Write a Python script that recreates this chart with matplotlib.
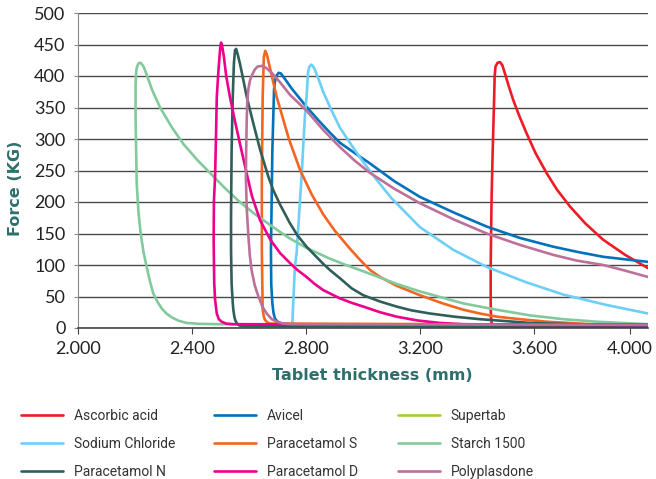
import matplotlib
matplotlib.use("Agg")
import matplotlib.pyplot as plt

# data: thickness (mm) and force (KG) per material
ascorbic_x = [4.0, 3.92, 3.843, 3.78, 3.726, 3.68, 3.644, 3.605, 3.574, 3.548, 3.527, 3.51, 3.498, 3.489, 3.481,
              3.472, 3.465, 3.462, 3.46, 3.455, 3.451, 3.448, 3.448, 3.449, 3.452, 4.0]
ascorbic_y = [95, 116, 140, 166, 193, 220, 246, 278, 309, 337, 362, 386, 404, 417, 422,
              421, 415, 400, 362, 280, 203, 97, 40, 18, 5, 5]

avicel_x = [4.0, 3.92, 3.843, 3.75, 3.668, 3.55, 3.434, 3.32, 3.2, 3.11, 3.025, 2.97, 2.919, 2.88, 2.849, 2.802,
            2.75, 2.725, 2.712, 2.704, 2.697, 2.692, 2.688, 2.682, 2.677, 2.678, 2.682, 2.686, 2.691, 2.7, 2.715, 2.75, 4.0]
avicel_y = [105, 109, 113, 121, 129, 143, 161, 183, 208, 233, 261, 278, 294, 312, 327, 351,
            380, 396, 404, 405, 401, 394, 380, 283, 124, 70, 39, 24, 15, 10, 7, 6, 5]

supertab_x = []
supertab_y = []

nacl_x = [4.0, 3.85, 3.703, 3.57, 3.434, 3.317, 3.2, 3.1, 3.05, 3.0, 2.966, 2.919, 2.89, 2.861, 2.845, 2.83,
          2.824, 2.818, 2.811, 2.807, 2.802, 2.796, 2.785, 2.779, 2.767, 2.761, 2.752, 2.77, 4.0]
nacl_y = [23, 37, 53, 73, 97, 124, 160, 206, 234, 264, 286, 318, 345, 374, 394, 411,
          416, 418, 414, 405, 367, 335, 245, 203, 119, 97, 7, 5, 4]

para_s_x = [4.0, 3.8, 3.645, 3.55, 3.469, 3.41, 3.352, 3.28, 3.2, 3.118, 3.06, 3.025, 2.99, 2.954, 2.9, 2.861,
            2.82, 2.779, 2.74, 2.697, 2.675, 2.662, 2.657, 2.652, 2.648, 2.645, 2.645, 2.648, 2.652, 2.656, 2.664, 2.674, 4.0]
para_s_y = [4, 6, 10, 14, 18, 23, 29, 39, 52, 67, 81, 92, 108, 126, 155, 180,
            212, 251, 300, 367, 410, 435, 440, 430, 367, 240, 124, 29, 18, 13, 9, 7, 5]

starch_x = [4.0, 3.82, 3.703, 3.586, 3.469, 3.352, 3.2, 3.118, 3.06, 3.001, 2.94, 2.884, 2.802, 2.74, 2.685,
            2.62, 2.568, 2.52, 2.47, 2.42, 2.37, 2.33, 2.288, 2.26, 2.241, 2.23, 2.22, 2.212, 2.206, 2.203,
            2.202, 2.202, 2.204, 2.206, 2.212, 2.22, 2.23, 2.241, 2.252, 2.264, 2.278, 2.294, 2.31, 2.329,
            2.35, 2.381, 2.43, 2.5, 4.0]
starch_y = [6, 10, 14, 20, 29, 39, 58, 70, 80, 90, 100, 110, 127, 143, 160,
            181, 200, 220, 243, 266, 292, 318, 350, 378, 402, 415, 421, 420, 413, 400,
            380, 335, 280, 230, 185, 150, 120, 97, 75, 55, 42, 31, 23, 17,
            12, 8, 6.5, 6, 5]

para_n_x = [4.0, 3.82, 3.7, 3.586, 3.5, 3.41, 3.32, 3.235, 3.17, 3.118, 3.06, 3.001, 2.96, 2.919, 2.884, 2.86,
            2.802, 2.77, 2.744, 2.71, 2.685, 2.668, 2.639, 2.615, 2.592, 2.575, 2.568, 2.56, 2.555, 2.551,
            2.547, 2.543, 2.539, 2.537, 2.537, 2.539, 2.543, 2.545, 2.549, 2.553, 2.558, 2.566, 2.58, 4.0]
para_n_y = [3, 5, 6.5, 8, 11, 14, 18, 23, 28, 34, 42, 52, 63, 79, 92, 102,
            129, 147, 166, 195, 219, 240, 283, 325, 367, 405, 420, 435, 443, 441,
            420, 367, 283, 180, 124, 70, 40, 29, 17, 11, 7, 4, 3, 2]

para_d_x = [4.0, 3.5, 3.35, 3.27, 3.19, 3.118, 3.06, 3.001, 2.96, 2.919, 2.861, 2.83, 2.802, 2.77, 2.744, 2.709,
            2.675, 2.639, 2.61, 2.592, 2.568, 2.55, 2.533, 2.52, 2.512, 2.505, 2.502, 2.499, 2.493, 2.487,
            2.484, 2.481, 2.477, 2.476, 2.478, 2.481, 2.487, 2.494, 2.504, 2.52, 2.545, 4.0]
para_d_y = [5, 5, 6, 8, 12, 18, 25, 34, 40, 47, 60, 70, 81, 92, 103, 119,
            140, 171, 210, 245, 293, 330, 367, 400, 430, 450, 453, 445, 410, 367,
            300, 240, 203, 140, 71, 45, 23, 14, 10, 7, 6, 5]

polyp_x = [4.0, 3.92, 3.843, 3.75, 3.668, 3.55, 3.434, 3.32, 3.2, 3.11, 3.025, 2.97, 2.917, 2.861, 2.802, 2.744,
           2.709, 2.68, 2.66, 2.644, 2.63, 2.62, 2.61, 2.604, 2.598, 2.594, 2.592, 2.59, 2.589, 2.592, 2.598,
           2.603, 2.609, 2.62, 2.633, 2.647, 2.662, 2.68, 2.697, 2.72, 2.75, 4.0]
polyp_y = [81, 91, 100, 107, 116, 132, 150, 172, 198, 221, 246, 266, 288, 314, 345, 370,
           390, 405, 413, 416, 415, 410, 401, 394, 380, 360, 330, 280, 240, 190, 145,
           115, 92, 68, 50, 34, 23, 14, 10, 7, 6, 5]

names = ['Ascorbic acid', 'Avicel', 'Supertab', 'Sodium Chloride', 'Paracetamol S',
         'Starch 1500', 'Paracetamol N', 'Paracetamol D', 'Polyplasdone']
xs = [ascorbic_x, avicel_x, supertab_x, nacl_x, para_s_x, starch_x, para_n_x, para_d_x, polyp_x]
ys = [ascorbic_y, avicel_y, supertab_y, nacl_y, para_s_y, starch_y, para_n_y, para_d_y, polyp_y]
colors = ['#ed1c24', '#0072bc', '#a6ce39', '#6dcff6', '#f26522',
          '#82ca9c', '#2f5f5b', '#ec008c', '#bd7099']

x_ticks = [2.0, 2.4, 2.8, 3.2, 3.6, 3.937]  # last label sits left of the axis end in the original
x_labels = ['2.000', '2.400', '2.800', '3.200', '3.600', '4.000']

teal = '#2e6f6c'

fig = plt.figure(figsize=(6.56, 4.79), dpi=100)
ax = fig.add_axes([78/656, 1 - 328/479, 570/656, 315/479])

lines = []
for x, y, c, n in zip(xs, ys, colors, names):
    l, = ax.plot(x, y, color=c, lw=1.9, label=n, solid_joinstyle='round', solid_capstyle='round')
    lines.append(l)

ax.set_xlim(2.0, 4.0)
ax.set_ylim(0, 500)
ax.set_yticks(range(0, 501, 50))
ax.set_xticks(x_ticks)
ax.set_xticklabels(x_labels)
ax.yaxis.grid(True, color='#4a4a4a', lw=1.0)
ax.set_axisbelow(True)
for s in ['top', 'right']:
    ax.spines[s].set_visible(False)
ax.spines['left'].set_color('#8a8a8a')
ax.spines['bottom'].set_color('#444444')
ax.spines['bottom'].set_linewidth(1.2)
ax.tick_params(axis='y', length=3, color='#8a8a8a', pad=6, labelsize=13, labelcolor='#222222')
ax.tick_params(axis='x', length=4, color='#444444', pad=5, labelsize=13, labelcolor='#222222')
for t in ax.get_xticklabels() + ax.get_yticklabels():
    t.set_fontfamily('Lato')

ax.set_xlabel('Tablet thickness (mm)', fontsize=11.5, fontweight='bold', color=teal)
ax.set_ylabel('Force (KG)', fontsize=11.5, fontweight='bold', color=teal)
ax.xaxis.set_label_coords(0.516, -0.128)
ax.yaxis.set_label_coords(-0.097, 0.444)

# legend laid out row by row in three columns, like the original
col_x = [21/656, 214/656, 398/656]
for i in range(3):
    h = [lines[i], lines[i + 3], lines[i + 6]]
    fig.legend(h, [l.get_label() for l in h], loc='upper left',
               bbox_to_anchor=(col_x[i], 1 - 409/479), frameon=False,
               handlelength=3.0, handletextpad=0.8, borderpad=0, borderaxespad=0,
               labelspacing=1.0, prop={'family': 'Roboto', 'size': 10},
               labelcolor='#333333')

plt.savefig('out.png', dpi=100)
